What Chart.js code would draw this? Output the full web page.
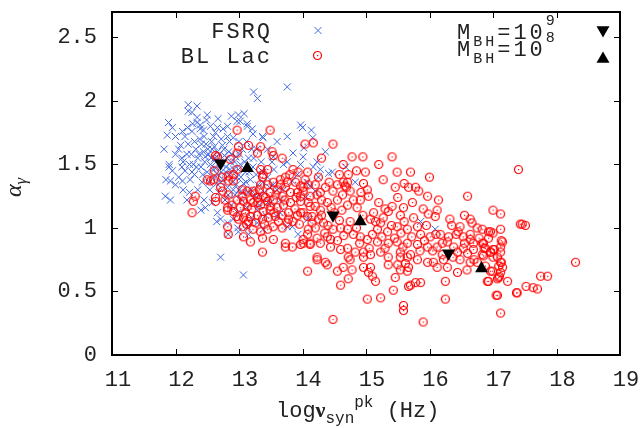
<!DOCTYPE html>
<html>
<head>
<meta charset="utf-8">
<title>alpha_gamma vs log nu_syn</title>
<style>
  html, body { margin: 0; padding: 0; background: #fff; }
</style>
</head>
<body>
<canvas id="myChart" width="641" height="428"></canvas>
<script src="https://cdn.jsdelivr.net/npm/chart.js"></script>
<script>
const xTicks = [11, 12, 13, 14, 15, 16, 17, 18, 19];
const yTicks = [0, 0.5, 1, 1.5, 2, 2.5];

// FSRQ: [log nu_syn^pk, alpha_gamma]
const fsrq = [
  [13.23,2.07],[13.29,2.02],[13.76,2.11],[11.89,1.83],[11.95,1.79],[12.20,1.97],[12.20,1.92],[12.34,1.96],[12.26,1.91],[12.34,1.87],
  [12.50,1.89],[12.49,1.85],[12.67,1.86],[12.88,1.88],[12.99,1.89],[13.08,1.90],[13.02,1.84],[13.13,1.80],[13.21,1.78],[13.97,1.81],
  [14.00,1.79],[14.14,1.77],[12.11,1.76],[12.19,1.79],[12.26,1.76],[12.39,1.81],[12.44,1.77],[12.66,1.79],[12.63,1.75],[12.82,1.72],
  [12.91,1.71],[13.76,1.72],[13.37,1.72],[11.87,1.73],[12.00,1.72],
  [12.34,1.83],[12.39,1.78],[12.82,1.80],[12.97,1.84],[13.13,1.82],[13.22,1.74],[13.38,1.71],[13.60,1.68],
  [12.12,1.52],[12.11,1.37],[11.92,1.37],[12.00,1.34],[11.84,1.25],[11.92,1.22],[12.23,1.38],[12.47,1.16],[12.66,1.12],[12.71,1.07],
  [12.82,1.04],[12.91,1.07],[12.71,0.77],[13.54,1.56],[13.76,1.52],[13.85,1.59],[14.01,1.56],[13.97,1.50],[13.92,1.42],[13.84,1.37],
  [14.17,1.48],[14.25,1.40],[13.76,1.01],[13.93,0.95],[13.84,1.01],[14.08,1.07],[12.83,0.95],[12.99,0.97],[13.13,1.01],[13.29,1.04],
  [13.38,0.99],[13.60,1.09],[13.29,1.14],[13.45,1.20],[13.65,1.22],[13.70,1.30],[13.54,1.34],[13.38,1.44],[13.07,0.63],
  [14.16,1.71],[14.36,1.60],[14.02,1.63],[14.23,1.52],[14.28,1.46],[14.41,1.43],[14.47,1.44],[14.68,1.48],[14.83,1.36],[14.07,1.36],
  [14.12,1.33],[14.20,1.29],[14.05,1.24],[15.86,1.05],[16.09,0.99],
  [12.05,1.62],[12.10,1.55],[12.15,1.45],[12.20,1.66],[12.25,1.58],[12.28,1.50],[12.30,1.42],[12.32,1.62],[12.35,1.55],[12.38,1.70],
  [12.40,1.48],[12.42,1.36],[12.44,1.60],[12.46,1.52],[12.48,1.66],[12.50,1.44],[12.52,1.58],[12.54,1.30],[12.55,1.50],[12.57,1.68],
  [12.58,1.62],[12.60,1.40],[12.62,1.55],[12.63,1.47],[12.65,1.35],[12.66,1.60],[12.68,1.28],[12.70,1.52],[12.72,1.44],[12.74,1.65],
  [12.75,1.38],[12.77,1.57],[12.78,1.22],[12.80,1.48],[12.82,1.32],[12.84,1.60],[12.85,1.42],[12.87,1.52],[12.88,1.18],[12.90,1.36],
  [12.92,1.46],[12.94,1.26],[12.95,1.56],[12.97,1.40],[12.98,1.12],[13.00,1.30],[13.02,1.50],[13.04,1.22],[13.05,1.62],[13.07,1.35],
  [13.10,1.44],[13.12,1.16],[13.14,1.28],[13.15,1.55],[13.18,1.38],[13.20,1.08],[13.22,1.48],[13.25,1.25],[13.28,1.62],[13.30,1.34],
  [13.32,1.18],[13.35,1.52],[13.40,1.28],[13.42,1.10],[13.45,1.40],[13.50,1.20],[13.55,1.46],[13.60,1.30],[13.65,1.12],[13.70,1.50],
  [12.12,1.30],[12.18,1.22],[12.22,1.28],[12.35,1.30],[12.45,1.22],[12.58,1.20],[11.95,1.45],[11.90,1.50],[12.00,1.58],[12.08,1.65],
  [12.60,1.72],[12.72,1.70],[12.85,1.68],[13.00,1.68],[13.12,1.68],[13.20,1.62],[13.45,1.62],[12.40,1.14],[12.65,1.05],[12.98,1.00],
  [13.15,0.95],[11.82,1.62],[11.90,1.48],[11.85,1.38],
  [12.05,1.40],[12.10,1.48],[12.18,1.58],[12.22,1.50],[12.26,1.44],[12.30,1.68],[12.33,1.48],[12.37,1.58],[12.41,1.66],[12.43,1.42],
  [12.47,1.56],[12.51,1.62],[12.53,1.36],[12.56,1.55],[12.59,1.46],[12.61,1.64],[12.64,1.52],[12.67,1.42],[12.69,1.58],[12.71,1.36],
  [12.73,1.50],[12.76,1.62],[12.79,1.44],[12.81,1.55],[12.83,1.26],[12.86,1.46],[12.89,1.58],[12.91,1.30],[12.93,1.52],[12.96,1.34],
  [12.99,1.46],[13.01,1.58],[13.03,1.40],[13.06,1.28],[13.09,1.52],[13.11,1.36],[13.16,1.44],[13.19,1.30],[13.23,1.55],[13.27,1.42],
  [13.31,1.26],[13.36,1.45],[13.38,1.36],[13.48,1.32],[13.52,1.52],[12.15,1.72],[12.27,1.82],[12.45,1.72],[12.55,1.80],[12.75,1.78]
];

// BL Lac: [log nu_syn^pk, alpha_gamma]
const bllac = [
  [12.97,1.77],[13.49,1.77],
  [12.99,1.64],[13.15,1.65],[13.34,1.64],[13.29,1.59],[12.97,1.59],[13.52,1.60],[13.54,1.57],[13.68,1.55],[14.04,1.66],[14.17,1.67],
  [12.63,1.57],[12.66,1.56],[12.86,1.54],[12.61,1.45],[12.97,1.46],[12.91,1.42],[12.83,1.41],[12.74,1.40],[12.83,1.37],[12.91,1.37],
  [12.50,1.38],[12.55,1.37],[12.60,1.38],[12.71,1.32],[12.74,1.29],[12.63,1.24],[12.83,1.26],[12.78,1.22],[13.05,1.30],[13.13,1.29],
  [13.22,1.29],[13.34,1.46],[13.38,1.42],[13.45,1.46],[13.37,1.40],[13.34,1.34],[13.45,1.34],[13.54,1.36],[13.65,1.34],[13.60,1.30],
  [13.73,1.32],[13.76,1.36],[13.89,1.36],[13.97,1.33],[14.09,1.34],[14.08,1.44],[13.93,1.44],[13.85,1.46],[13.73,1.40],[13.49,1.28],
  [13.38,1.25],[13.29,1.24],[13.18,1.22],[13.07,1.21],[12.97,1.22],[12.89,1.18],[12.82,1.16],[12.91,1.13],[13.02,1.16],[13.13,1.17],
  [13.22,1.20],[13.34,1.18],[13.45,1.21],[13.54,1.22],[13.68,1.25],[13.81,1.28],[13.92,1.28],[14.01,1.29],[14.12,1.25],[14.23,1.26],
  [13.81,1.20],[13.97,1.21],[14.09,1.20],[14.20,1.17],[13.70,1.18],[13.60,1.16],[13.49,1.14],[13.38,1.13],[13.29,1.10],[13.18,1.09],
  [13.07,1.08],[12.97,1.09],[13.15,1.05],[13.26,1.04],[13.37,1.07],[13.46,1.08],[13.57,1.09],[13.68,1.10],[13.78,1.12],[13.92,1.10],
  [14.01,1.12],[14.15,1.09],[14.25,1.07],[13.85,1.05],[13.76,1.04],[13.54,1.01],[13.68,1.00],[13.45,0.99],[13.34,0.97],[13.22,0.99],
  [13.07,1.01],[12.99,1.07],[12.82,1.01],[12.83,0.95],[13.07,0.93],[13.18,0.89],[13.37,0.92],[13.54,0.91],[13.73,0.88],[13.84,0.85],
  [13.97,0.87],[14.12,0.88],[14.08,0.95],[14.20,1.00],[13.37,0.81],[13.73,0.85],[12.31,1.25],[12.28,1.21],[12.26,1.12],[12.63,1.21],
  [12.82,1.14],
  [14.48,1.66],[14.78,1.56],[15.41,1.56],[14.64,1.50],[14.72,1.42],[14.99,1.44],[15.49,1.44],[15.70,1.44],[15.27,1.38],[14.71,1.36],
  [14.96,1.35],[15.46,1.32],[15.67,1.32],[15.78,1.32],[15.83,1.29],[15.02,1.30],[15.04,1.25],[14.75,1.29],[14.69,1.32],[14.91,1.22],
  [15.97,1.25],[16.14,1.22],[15.73,1.20],[16.12,1.14],[15.98,1.11],[16.09,1.09],[16.32,1.07],[17.00,1.14],[17.12,1.11],[17.40,1.46],
  [17.43,1.03],[16.83,0.99],[16.96,0.97],[17.12,0.99],[16.64,1.07],[16.67,1.04],[16.48,1.01],[16.45,0.97],[16.53,0.93],[16.64,0.91],
  [16.83,0.88],[16.88,0.84],[17.00,0.83],[17.12,0.85],[16.69,0.83],[16.53,0.84],[16.44,0.81],[15.41,1.17],[15.35,1.13],[15.54,1.10],
  [15.59,1.16],[15.27,1.08],[15.23,1.04],[15.12,1.12],[15.07,1.07],[15.18,0.99],[15.34,0.97],[15.49,1.01],[15.65,0.99],[15.81,1.01],
  [15.86,0.95],[16.01,0.93],[16.17,0.95],[16.28,0.89],[16.12,0.85],[15.97,0.85],[15.81,0.87],[15.65,0.88],[15.49,0.89],[15.35,0.88],
  [15.18,0.89],[15.02,0.91],[14.91,0.93],[14.80,0.95],[14.71,0.99],[14.60,1.00],[14.48,0.99],[14.33,1.04],[14.08,1.09],[13.97,1.12],
  [14.28,1.14],[14.12,1.17],[14.39,1.20],[14.55,1.22],[14.71,1.18],[14.86,1.16],[14.63,1.26],[14.48,1.29],[14.28,1.28],[13.97,1.25],
  [14.01,1.32],[14.20,1.34],[14.36,1.32],[14.55,1.34],[14.64,1.36],[14.04,1.38],[14.25,1.40],[14.67,1.33],[14.71,0.84],[14.83,0.81],
  [14.96,0.81],[15.07,0.79],[15.23,0.81],[15.35,0.77],[15.54,0.81],[15.70,0.79],[14.60,0.83],[14.44,0.85],[14.28,0.88],[14.12,0.87],
  [14.01,0.91],[14.23,0.92],[14.39,0.93],[14.09,0.99],[14.23,0.77],[14.72,0.77],
  [14.23,0.75],[14.36,0.73],[14.39,0.71],[14.08,0.66],[14.55,0.66],[14.64,0.69],[14.75,0.75],[14.78,0.67],[14.60,0.55],[14.72,0.60],
  [14.96,0.69],[15.07,0.69],[15.04,0.65],[15.10,0.62],[15.15,0.58],[14.96,0.77],[15.35,0.71],[15.50,0.71],[15.54,0.67],[15.65,0.66],
  [15.67,0.69],[15.46,0.61],[15.43,0.51],[15.67,0.54],[15.70,0.55],[15.78,0.57],[15.86,0.57],[15.02,0.44],[15.23,0.45],[15.59,0.39],
  [15.59,0.35],[14.48,0.28],[15.90,0.26],[16.25,0.58],[16.25,0.44],[16.44,0.65],[16.59,0.67],[16.64,0.73],[16.75,0.73],[16.99,0.66],
  [16.93,0.58],[17.12,0.65],[17.23,0.58],[17.07,0.47],[17.12,0.33],[17.38,0.49],[17.09,0.61],[17.15,0.69],[17.12,0.73],[17.00,0.77],
  [17.12,0.81],[16.96,0.81],[16.83,0.79],[16.69,0.88],[16.64,0.95],[17.15,0.89],[17.00,0.96],[16.48,0.75],[16.37,0.77],[16.22,0.75],
  [16.06,0.73],[15.97,0.73],[15.81,0.75],[15.65,0.77],[15.54,0.77],[16.12,0.69],[16.28,0.69],[14.44,0.91],[14.01,0.88],
  [17.46,1.03],[17.51,1.02],[16.93,0.97],[16.93,0.92],[17.13,0.90],[16.85,0.88],[16.86,0.84],[17.02,0.83],[16.96,0.81],[17.07,0.77],
  [16.85,0.78],[17.13,0.73],[18.30,0.73],[17.09,0.70],[16.96,0.66],[17.10,0.62],[17.07,0.60],[16.91,0.58],[17.75,0.62],[17.86,0.62],
  [17.52,0.54],[17.63,0.53],[17.70,0.52],[17.37,0.49],[17.05,0.47],
  [13.05,1.25],[13.10,1.12],[13.20,1.15],[13.25,1.27],[13.30,1.20],[13.42,1.24],[13.50,1.17],[13.58,1.26],[13.62,1.05],[13.72,1.22],
  [13.78,1.07],[13.88,1.15],[13.95,1.03],[13.90,1.24],[13.40,1.03],[13.55,1.12],[13.12,1.03],[13.32,1.30],[13.65,1.38],[13.80,1.42],
  [14.15,1.04],[14.30,1.10],[14.40,1.02],[14.50,1.12],[14.58,1.06],[14.65,0.94],[14.75,1.05],[14.85,1.00],[14.95,1.10],[14.90,0.88],
  [14.55,0.90],[14.35,0.96],[14.45,1.16],[14.62,1.14],[14.80,1.22],[14.92,1.28],[14.30,1.22],[14.42,1.36],[14.85,1.45],[14.58,1.42],
  [15.10,0.95],[15.15,1.05],[15.25,0.93],[15.30,1.15],[15.40,1.02],[15.45,0.92],[15.55,0.96],[15.60,1.05],[15.72,0.93],[15.75,1.08],
  [15.85,0.82],[15.92,0.90],[15.95,1.02],[15.05,0.84],[15.30,0.84],[15.58,0.85],[15.20,1.20],[15.50,1.24],[15.90,1.15],[15.62,0.72],
  [16.05,0.82],[16.10,0.95],[16.20,0.88],[16.30,0.93],[16.38,0.85],[16.42,0.95],[16.55,0.88],[16.60,0.80],[16.70,0.75],[16.78,0.92],
  [16.88,0.70],[16.20,0.79],[16.35,1.02],[16.55,1.10],[16.75,1.00],[15.60,1.35],[16.00,1.40],[16.60,1.25],[15.20,1.50],[14.30,1.55],
  [14.95,1.56]
];

// black hole mass tracks
const mbh9 = [[12.71,1.51],[14.48,1.10],[16.30,0.80]];
const mbh8 = [[13.13,1.47],[14.91,1.05],[16.82,0.68]];

const toXY = arr => arr.map(p => ({x: p[0], y: p[1]}));

const mono = '"Liberation Mono", "DejaVu Sans Mono", monospace';
const serif = '"Liberation Serif", "DejaVu Serif", serif';
const blue = '#4169e1';
const red = '#ff0000';
const ink = '#222';

// open circle with a dot, like gnuplot pt 6
const ring = document.createElement('canvas');
ring.width = 11; ring.height = 11;
(function () {
  const c = ring.getContext('2d');
  c.strokeStyle = red; c.lineWidth = 1.2;
  c.beginPath(); c.arc(5.5, 5.5, 4, 0, Math.PI * 2); c.stroke();
  c.fillStyle = red; c.fillRect(5, 5, 1.2, 1.2);
})();

const frame = {
  id: 'frame',
  beforeDatasetsDraw(chart) {
    const {ctx, chartArea: a, scales: {x, y}} = chart;
    ctx.save();
    ctx.strokeStyle = '#000';
    ctx.lineWidth = 1;
    ctx.beginPath();
    xTicks.forEach(v => {
      const px = Math.round(x.getPixelForValue(v)) + 0.5;
      ctx.moveTo(px, a.bottom); ctx.lineTo(px, a.bottom - 6);
      ctx.moveTo(px, a.top); ctx.lineTo(px, a.top + 6);
    });
    yTicks.forEach(v => {
      const py = Math.round(y.getPixelForValue(v)) + 0.5;
      ctx.moveTo(a.left, py); ctx.lineTo(a.left + 6, py);
      ctx.moveTo(a.right, py); ctx.lineTo(a.right - 6, py);
    });
    ctx.stroke();
    ctx.lineWidth = 2;
    ctx.strokeRect(a.left, a.top, a.right - a.left, a.bottom - a.top);
    ctx.restore();
  }
};

function rich(ctx, parts, x, y) {
  parts.forEach(p => {
    ctx.font = p.f;
    ctx.letterSpacing = p.ls || '0px';
    ctx.fillText(p.t, x, y + (p.dy || 0));
    x += ctx.measureText(p.t).width;
  });
  return x;
}

function tri(ctx, x, y, r, down) {
  const s = down ? -1 : 1;
  ctx.beginPath();
  ctx.moveTo(x, y - s * r);
  ctx.lineTo(x + r * 0.866, y + s * r / 2);
  ctx.lineTo(x - r * 0.866, y + s * r / 2);
  ctx.closePath();
  ctx.fill();
}

const labels = {
  id: 'labels',
  afterDraw(chart) {
    const ctx = chart.ctx;
    ctx.save();
    ctx.fillStyle = ink;
    ctx.textBaseline = 'alphabetic';

    // left key
    ctx.textAlign = 'right';
    ctx.font = '22px ' + mono;
    ctx.letterSpacing = '2px';
    ctx.fillText('FSRQ', 272, 38);
    ctx.fillText('BL Lac', 272, 63);
    ctx.letterSpacing = '0px';
    ctx.strokeStyle = blue; ctx.lineWidth = 1;
    ctx.beginPath();
    ctx.moveTo(314.5, 27); ctx.lineTo(321.5, 34);
    ctx.moveTo(321.5, 27); ctx.lineTo(314.5, 34);
    ctx.stroke();
    ctx.drawImage(ring, 312, 50);

    // right key
    ctx.textAlign = 'left';
    let nx = rich(ctx, [
      {t: 'M', f: '22px ' + mono, ls: '3px'},
      {t: 'BH', f: '15px ' + mono, dy: 7, ls: '3px'},
      {t: '=10', f: '22px ' + mono, ls: '3px'}
    ], 457, 39);
    rich(ctx, [{t: '9', f: '15px ' + mono, dy: -14}], nx, 39);
    nx = rich(ctx, [
      {t: 'M', f: '22px ' + mono, ls: '3px'},
      {t: 'BH', f: '15px ' + mono, dy: 7, ls: '3px'},
      {t: '=10', f: '22px ' + mono, ls: '3px'}
    ], 457, 56);
    rich(ctx, [{t: '8', f: '15px ' + mono, dy: -14}], nx, 56);
    ctx.fillStyle = '#000';
    tri(ctx, 603, 30, 7.5, true);
    tri(ctx, 603, 59, 7.5, false);

    // x title
    ctx.fillStyle = ink;
    rich(ctx, [
      {t: 'log', f: '22px ' + mono},
      {t: 'ν', f: 'bold 22px ' + serif},
      {t: 'syn', f: '16px ' + mono, dy: 6},
      {t: 'pk', f: '16px ' + mono, dy: -10},
      {t: ' (Hz)', f: '22px ' + mono}
    ], 276, 417);

    // y title
    ctx.translate(21, 197);
    ctx.rotate(-Math.PI / 2);
    rich(ctx, [
      {t: 'α', f: 'italic 24px ' + serif},
      {t: 'γ', f: 'italic 17px ' + serif, dy: 5}
    ], 0, 0);
    ctx.restore();
  }
};

const tickFont = {family: mono, size: 22};
const noPad = s => { s.paddingTop = 0; s.paddingBottom = 0; s.paddingLeft = 0; s.paddingRight = 0; };

new Chart(document.getElementById('myChart'), {
  type: 'scatter',
  data: {
    datasets: [
      {label: 'M_BH=10^9', data: toXY(mbh9), pointStyle: 'triangle', rotation: 180, radius: 7.5,
       backgroundColor: '#000', borderColor: '#000', borderWidth: 0, order: 0},
      {label: 'M_BH=10^8', data: toXY(mbh8), pointStyle: 'triangle', radius: 7.5,
       backgroundColor: '#000', borderColor: '#000', borderWidth: 0, order: 0},
      {label: 'BL Lac', data: toXY(bllac), pointStyle: ring, radius: 5, order: 1},
      {label: 'FSRQ', data: toXY(fsrq), pointStyle: 'crossRot', radius: 5,
       borderColor: blue, borderWidth: 1, order: 2}
    ]
  },
  options: {
    responsive: false,
    animation: false,
    events: [],
    layout: {padding: {left: 0, right: 21, top: 12, bottom: 0}},
    plugins: {legend: {display: false}, tooltip: {enabled: false}},
    scales: {
      x: {
        type: 'linear', min: 11, max: 19,
        afterBuildTicks: s => { s.ticks = xTicks.map(v => ({value: v})); },
        afterFit: s => { s.height = 73; noPad(s); },
        grid: {display: false, drawTicks: false},
        border: {display: false},
        ticks: {font: tickFont, color: ink, padding: 12, labelOffset: 6, maxRotation: 0,
                callback: v => String(v)}
      },
      y: {
        type: 'linear', min: 0, max: 2.7,
        afterBuildTicks: s => { s.ticks = yTicks.map(v => ({value: v})); },
        afterFit: s => { s.width = 112; noPad(s); },
        grid: {display: false, drawTicks: false},
        border: {display: false},
        ticks: {font: tickFont, color: ink, padding: 15, callback: v => String(v)}
      }
    }
  },
  plugins: [frame, labels]
});
</script>
</body>
</html>
